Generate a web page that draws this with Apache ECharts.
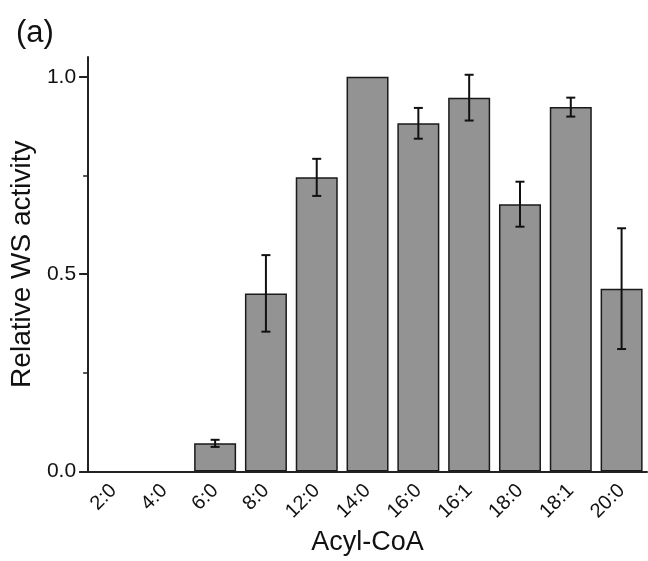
<!DOCTYPE html>
<html>
<head>
<meta charset="utf-8">
<script src="https://cdn.jsdelivr.net/npm/echarts@6/dist/echarts.min.js"></script>
<style>
html,body{margin:0;padding:0;background:#fff;}
#chart{width:648px;height:561px;}
</style>
</head>
<body>
<div id="chart"></div>
<script>
var categories = ['2:0','4:0','6:0','8:0','12:0','14:0','16:0','16:1','18:0','18:1','20:0'];
var values = [0, 0, 0.071, 0.451, 0.745, 1.0, 0.882, 0.947, 0.677, 0.923, 0.463];
var errors = [null, null, 0.009, 0.097, 0.047, null, 0.039, 0.058, 0.057, 0.024, 0.153];
var yTickValues = [0, 0.5, 1.0];
var yMinorTickValues = [0.25, 0.75];

var FONT = '"Liberation Sans", Arial, Helvetica, sans-serif';
var chart = echarts.init(document.getElementById('chart'));

var errData = [];
for (var i = 0; i < categories.length; i++) {
  if (errors[i] != null) errData.push([i, values[i], errors[i]]);
}
var barData = values.map(function (v) {
  return v === 0 ? {value: v, itemStyle: {borderWidth: 0}} : v;
});

chart.setOption({
  animation: false,
  backgroundColor: '#fff',
  title: {
    text: '(a)', left: 11, top: 13,
    textStyle: {fontFamily: FONT, fontSize: 31, fontWeight: 'normal', color: '#111'}
  },
  grid: {left: 78, right: 1, top: 57, bottom: 84, containLabel: false},
  xAxis: {
    type: 'category',
    data: categories,
    boundaryGap: true,
    name: 'Acyl-CoA',
    nameLocation: 'middle',
    nameGap: 53,
    nameTextStyle: {fontFamily: FONT, fontSize: 27, color: '#111'},
    axisLine: {lineStyle: {color: '#222', width: 2}},
    axisTick: {alignWithLabel: true, length: 8, lineStyle: {color: '#222', width: 2}},
    axisLabel: {rotate: 45, margin: 16, fontFamily: FONT, fontSize: 20, color: '#111'},
    splitLine: {show: false},
    z: 10
  },
  yAxis: [{
    type: 'value',
    min: 0, max: 1.05,
    name: 'Relative WS activity',
    nameLocation: 'middle',
    nameGap: 41,
    nameRotate: 90,
    nameTextStyle: {fontFamily: FONT, fontSize: 28, color: '#111'},
    axisLine: {show: true, lineStyle: {color: '#222', width: 2}},
    axisTick: {show: true, length: 9, customValues: yTickValues, lineStyle: {color: '#222', width: 2}},
    axisLabel: {customValues: yTickValues, margin: 12, fontFamily: FONT, fontSize: 21, color: '#111',
      formatter: function (v) { return v.toFixed(1); }},
    splitLine: {show: false}
  }, {
    type: 'value',
    min: 0, max: 1.05,
    position: 'left',
    axisLine: {show: false},
    axisTick: {show: true, length: 5, customValues: yMinorTickValues, lineStyle: {color: '#222', width: 1.5}},
    axisLabel: {show: false},
    splitLine: {show: false}
  }],
  series: [{
    type: 'bar',
    data: barData,
    barWidth: 42,
    itemStyle: {color: '#939393', borderColor: '#1a1a1a', borderWidth: 1.5},
    z: 2
  }, {
    type: 'custom',
    data: errData,
    z: 5,
    renderItem: function (params, api) {
      var x = api.value(0), v = api.value(1), e = api.value(2);
      var top = api.coord([x, v + e]);
      var bot = api.coord([x, v - e]);
      var hw = 4.5;
      var style = {stroke: '#111', lineWidth: 2};
      return {
        type: 'group',
        children: [
          {type: 'line', shape: {x1: top[0], y1: top[1], x2: bot[0], y2: bot[1]}, style: style},
          {type: 'line', shape: {x1: top[0] - hw, y1: top[1], x2: top[0] + hw, y2: top[1]}, style: style},
          {type: 'line', shape: {x1: bot[0] - hw, y1: bot[1], x2: bot[0] + hw, y2: bot[1]}, style: style}
        ]
      };
    }
  }]
});
</script>
</body>
</html>
